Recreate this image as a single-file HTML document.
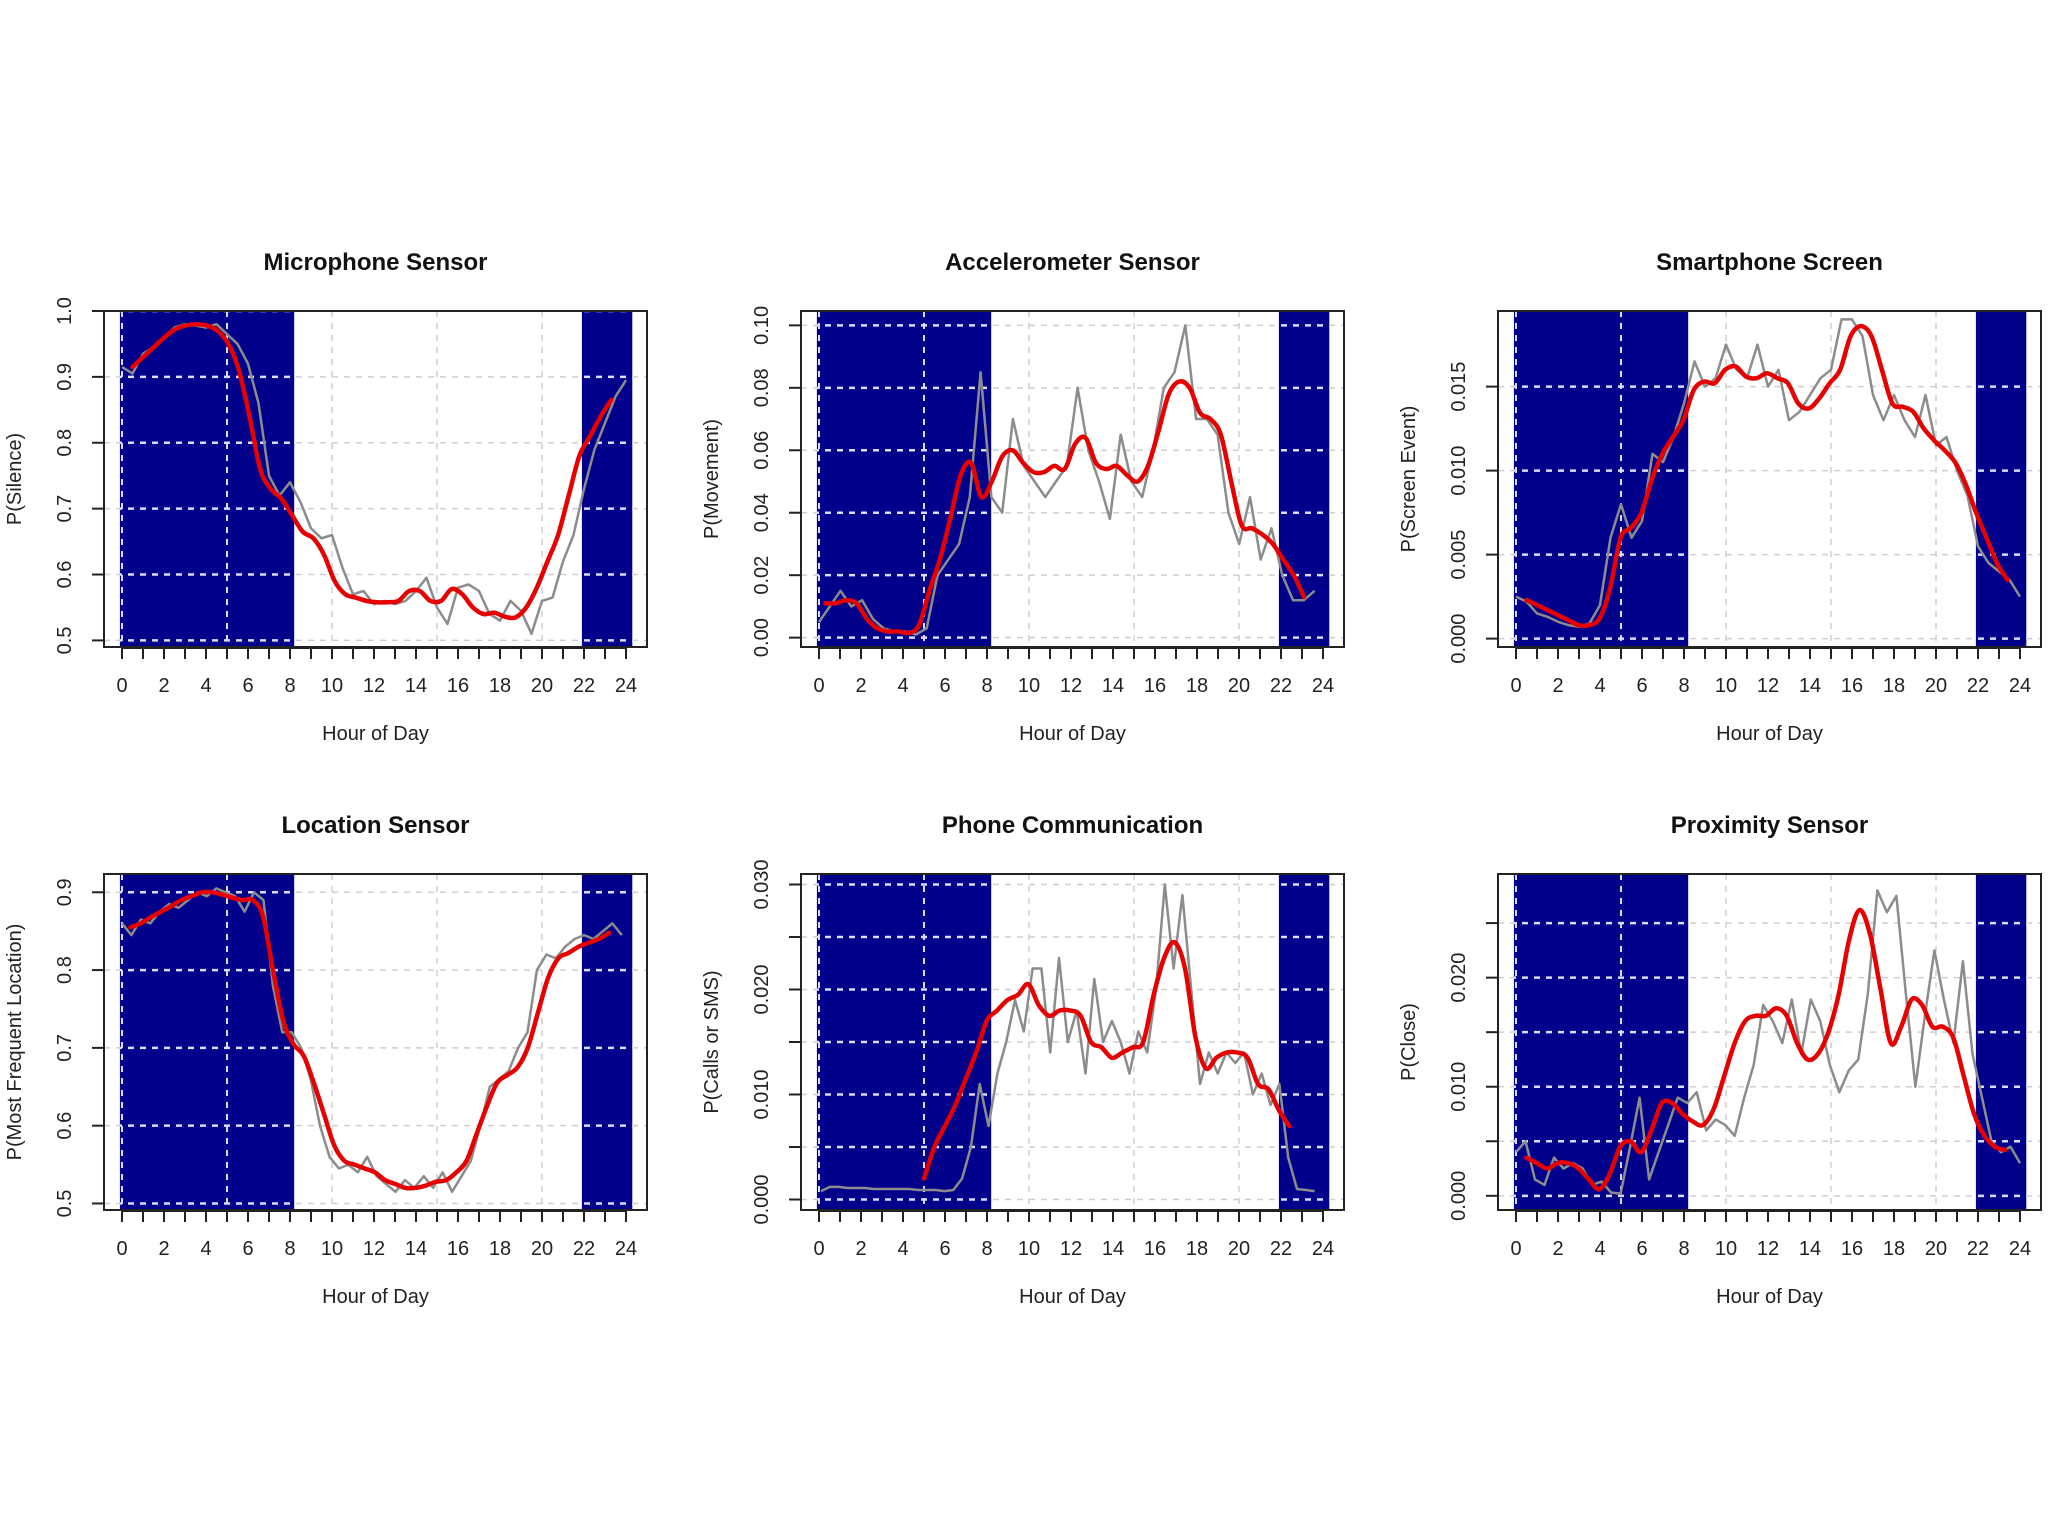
<!DOCTYPE html>
<html><head><meta charset="utf-8"><style>
html,body{margin:0;padding:0;background:#fff;}
svg{display:block;font-family:"Liberation Sans",Arial,sans-serif;}
</style></head><body>
<svg id="fig" width="2048" height="1535" viewBox="0 0 2048 1535" xmlns="http://www.w3.org/2000/svg"></svg>
<script>
// ---------- data ----------
const hourTicks = [0,1,2,3,4,5,6,7,8,9,10,11,12,13,14,15,16,17,18,19,20,21,22,23,24];
const hourLabels = ["0","2","4","6","8","10","12","14","16","18","20","22","24"];
const nightBands = [[-0.1, 8.2], [21.9, 24.3]];

const titles = ["Microphone Sensor","Accelerometer Sensor","Smartphone Screen","Location Sensor","Phone Communication","Proximity Sensor"];
const yTitles = ["P(Silence)","P(Movement)","P(Screen Event)","P(Most Frequent Location)","P(Calls or SMS)","P(Close)"];

const micTicks = [0.5,0.6,0.7,0.8,0.9,1.0];
const micTickLabels = ["0.5","0.6","0.7","0.8","0.9","1.0"];
const micRange = [0.49, 1.0];
const micRaw = [0.915,0.905,0.935,0.945,0.96,0.975,0.98,0.978,0.975,0.98,0.965,0.95,0.92,0.86,0.75,0.72,0.74,0.71,0.67,0.655,0.66,0.61,0.57,0.575,0.555,0.56,0.555,0.56,0.575,0.595,0.55,0.525,0.58,0.585,0.575,0.54,0.53,0.56,0.545,0.51,0.56,0.565,0.62,0.66,0.73,0.79,0.83,0.87,0.895];
const micSmooth = [0.915,0.93,0.945,0.96,0.972,0.978,0.98,0.978,0.97,0.95,0.91,0.84,0.76,0.73,0.715,0.69,0.665,0.655,0.63,0.59,0.57,0.565,0.56,0.558,0.558,0.56,0.575,0.575,0.56,0.56,0.578,0.57,0.55,0.54,0.542,0.536,0.535,0.55,0.58,0.62,0.66,0.72,0.78,0.81,0.84,0.865];
const micSpan = [0.5, 23.3];

const accTicks = [0,0.02,0.04,0.06,0.08,0.10];
const accTickLabels = ["0.00","0.02","0.04","0.06","0.08","0.10"];
const accRange = [-0.003, 0.1046];
const accRaw = [0.005,0.01,0.015,0.01,0.012,0.006,0.003,0.002,0.002,0.001,0.003,0.02,0.025,0.03,0.045,0.085,0.045,0.04,0.07,0.055,0.05,0.045,0.05,0.055,0.08,0.06,0.05,0.038,0.065,0.05,0.045,0.06,0.08,0.085,0.1,0.07,0.07,0.065,0.04,0.03,0.045,0.025,0.035,0.02,0.012,0.012,0.015];
const accSmooth = [0.011,0.011,0.012,0.011,0.006,0.003,0.002,0.002,0.0015,0.004,0.015,0.025,0.038,0.052,0.056,0.045,0.05,0.058,0.06,0.056,0.053,0.053,0.055,0.054,0.062,0.064,0.056,0.054,0.055,0.052,0.05,0.055,0.066,0.078,0.082,0.08,0.072,0.07,0.065,0.05,0.036,0.035,0.033,0.03,0.025,0.02,0.013];
const accSpan = [0.3, 23.1];

const scrTicks = [0,0.005,0.010,0.015];
const scrTickLabels = ["0.000","0.005","0.010","0.015"];
const scrRange = [-0.0005, 0.0195];
const scrRaw = [0.0025,0.0022,0.0015,0.0013,0.001,0.0008,0.0007,0.0009,0.002,0.006,0.008,0.006,0.007,0.011,0.0105,0.012,0.014,0.0165,0.015,0.0155,0.0175,0.016,0.0155,0.0175,0.015,0.016,0.013,0.0135,0.0145,0.0155,0.016,0.019,0.019,0.018,0.0145,0.013,0.0145,0.013,0.012,0.0145,0.0115,0.012,0.01,0.0085,0.0055,0.0045,0.004,0.0035,0.0025];
const scrSmooth = [0.0023,0.002,0.0017,0.0014,0.0011,0.0008,0.0008,0.0012,0.003,0.006,0.0066,0.0075,0.0095,0.011,0.012,0.013,0.0148,0.0153,0.0152,0.016,0.0162,0.0156,0.0155,0.0158,0.0155,0.0152,0.014,0.0137,0.0143,0.0152,0.016,0.018,0.0186,0.018,0.016,0.014,0.0138,0.0135,0.0125,0.0118,0.0112,0.0105,0.0092,0.0075,0.006,0.0045,0.0035];
const scrSpan = [0.5, 23.4];

const locTicks = [0.5,0.6,0.7,0.8,0.9];
const locTickLabels = ["0.5","0.6","0.7","0.8","0.9"];
const locRange = [0.4916, 0.9235];
const locRaw = [0.86,0.845,0.865,0.86,0.875,0.885,0.88,0.89,0.9,0.895,0.905,0.9,0.895,0.875,0.9,0.89,0.78,0.72,0.72,0.7,0.66,0.6,0.56,0.545,0.55,0.54,0.56,0.535,0.525,0.515,0.53,0.52,0.535,0.52,0.54,0.515,0.535,0.555,0.6,0.65,0.66,0.67,0.7,0.72,0.8,0.82,0.815,0.83,0.84,0.845,0.84,0.85,0.86,0.845];
const locSmooth = [0.855,0.86,0.868,0.875,0.882,0.89,0.895,0.9,0.9,0.897,0.893,0.89,0.89,0.87,0.8,0.735,0.705,0.69,0.655,0.615,0.575,0.555,0.55,0.545,0.54,0.53,0.525,0.52,0.52,0.523,0.528,0.53,0.54,0.555,0.59,0.625,0.655,0.665,0.675,0.7,0.745,0.79,0.815,0.822,0.83,0.835,0.84,0.848];
const locSpan = [0.4, 23.2];

const phnTicks = [0,0.005,0.010,0.015,0.020,0.025,0.030];
const phnTickLabels = ["0.000","","0.010","","0.020","","0.030"];
const phnRange = [-0.001, 0.031];
const phnRaw = [0.0008,0.0012,0.0012,0.0011,0.0011,0.0011,0.001,0.001,0.001,0.001,0.001,0.0009,0.0009,0.0009,0.0008,0.0009,0.002,0.005,0.011,0.007,0.012,0.015,0.019,0.016,0.022,0.022,0.014,0.023,0.015,0.018,0.012,0.021,0.015,0.017,0.015,0.012,0.016,0.014,0.02,0.03,0.022,0.029,0.02,0.011,0.014,0.012,0.014,0.013,0.014,0.01,0.012,0.009,0.011,0.004,0.001,0.0009,0.0008];
const phnSmooth = [0.002,0.005,0.007,0.009,0.0115,0.014,0.017,0.018,0.019,0.0195,0.0205,0.0185,0.0175,0.018,0.018,0.0175,0.015,0.0145,0.0135,0.014,0.0145,0.015,0.0195,0.023,0.0245,0.022,0.0155,0.0125,0.0135,0.014,0.014,0.0135,0.011,0.0105,0.0085,0.007];
const phnSpan = [5.0, 22.4];
const phnRawSpan = [0.1, 23.6];

const prxTicks = [0,0.005,0.010,0.015,0.020,0.025];
const prxTickLabels = ["0.000","","0.010","","0.020",""];
const prxRange = [-0.0013, 0.0295];
const prxRaw = [0.004,0.005,0.0015,0.001,0.0035,0.0025,0.003,0.0025,0.001,0.0013,0.0003,0.0002,0.0045,0.009,0.0015,0.004,0.0065,0.009,0.0085,0.0095,0.006,0.007,0.0065,0.0055,0.009,0.012,0.0175,0.016,0.014,0.018,0.013,0.018,0.016,0.012,0.0095,0.0115,0.0125,0.0185,0.028,0.026,0.0275,0.0185,0.01,0.0165,0.0225,0.018,0.014,0.0215,0.013,0.009,0.005,0.004,0.0045,0.003];
const prxSmooth = [0.0035,0.003,0.0025,0.003,0.003,0.0025,0.0015,0.0006,0.002,0.0045,0.005,0.004,0.006,0.0085,0.0085,0.0075,0.0068,0.0065,0.008,0.011,0.014,0.016,0.0165,0.0165,0.0172,0.0165,0.014,0.0125,0.013,0.015,0.0185,0.0235,0.0262,0.024,0.019,0.014,0.0155,0.018,0.0175,0.0155,0.0155,0.0145,0.011,0.0075,0.0055,0.0045,0.0042];
const prxSpan = [0.5, 23.3];

// ---------- drawing ----------
const NS = "http://www.w3.org/2000/svg";
const svg = document.getElementById('fig');
function mk(tag, attrs, parent){ const e=document.createElementNS(NS,tag); for(const k in attrs) e.setAttribute(k, attrs[k]); (parent||svg).appendChild(e); return e; }

const colLeft = [104, 801, 1498];
const rowTop = [311, 874];
const W = 543, H = 336;

const panels = [
 {ticks:micTicks, labels:micTickLabels, range:micRange, raw:micRaw, rawSpan:[0,24], sm:micSmooth, span:micSpan},
 {ticks:accTicks, labels:accTickLabels, range:accRange, raw:accRaw, rawSpan:[0,23.6], sm:accSmooth, span:accSpan},
 {ticks:scrTicks, labels:scrTickLabels, range:scrRange, raw:scrRaw, rawSpan:[0,24], sm:scrSmooth, span:scrSpan},
 {ticks:locTicks, labels:locTickLabels, range:locRange, raw:locRaw, rawSpan:[0,23.8], sm:locSmooth, span:locSpan},
 {ticks:phnTicks, labels:phnTickLabels, range:phnRange, raw:phnRaw, rawSpan:phnRawSpan, sm:phnSmooth, span:phnSpan},
 {ticks:prxTicks, labels:prxTickLabels, range:prxRange, raw:prxRaw, rawSpan:[0,24], sm:prxSmooth, span:prxSpan}
];

function smoothPath(pts){
  let d = "M"+pts[0][0].toFixed(1)+","+pts[0][1].toFixed(1);
  for(let i=0;i<pts.length-1;i++){
    const p0=pts[Math.max(0,i-1)], p1=pts[i], p2=pts[i+1], p3=pts[Math.min(pts.length-1,i+2)];
    const c1x=p1[0]+(p2[0]-p0[0])/6, c1y=p1[1]+(p2[1]-p0[1])/6;
    const c2x=p2[0]-(p3[0]-p1[0])/6, c2y=p2[1]-(p3[1]-p1[1])/6;
    d+=" C"+c1x.toFixed(1)+","+c1y.toFixed(1)+" "+c2x.toFixed(1)+","+c2y.toFixed(1)+" "+p2[0].toFixed(1)+","+p2[1].toFixed(1);
  }
  return d;
}

panels.forEach((p, idx) => {
  const L = colLeft[idx%3], T = rowTop[Math.floor(idx/3)], B = T+H, R = L+W;
  const xs = h => L + 18 + h*21.0;
  const ys = v => B - (v - p.range[0])/(p.range[1]-p.range[0])*H;
  const g = mk('g', {});
  
  
  const clipId = 'clip'+idx;
  const cp = mk('clipPath',{id:clipId}, g);
  mk('rect',{x:L,y:T,width:W,height:H},cp);
  const plot = mk('g',{'clip-path':'url(#'+clipId+')'}, g);
  nightBands.forEach((b,bi)=>{
    const r = mk('rect',{x:xs(b[0]),y:T,width:xs(b[1])-xs(b[0]),height:H,fill:'#00008b'},plot);
    
    
  });
  [0,5,10,15,20].forEach(h=>{
    mk('line',{x1:xs(h),x2:xs(h),y1:T,y2:B,stroke:'#cfcfcf','stroke-width':1.5,'stroke-dasharray':'6,6'},plot);
  });
  p.ticks.forEach(v=>{
    mk('line',{x1:L,x2:R,y1:ys(v),y2:ys(v),stroke:'#cfcfcf','stroke-width':1.5,'stroke-dasharray':'6,6'},plot);
  });
  nightBands.forEach((b,bi)=>{
    const cid='bc'+idx+'_'+bi;
    const c=mk('clipPath',{id:cid},g);
    mk('rect',{x:xs(b[0]),y:T,width:xs(b[1])-xs(b[0]),height:H},c);
    const gg=mk('g',{'clip-path':'url(#'+cid+')'},plot);
    [0,5,10,15,20].forEach(h=>mk('line',{x1:xs(h),x2:xs(h),y1:T,y2:B,stroke:'#dcdcff','stroke-width':2,'stroke-dasharray':'6,6'},gg));
    p.ticks.forEach(v=>mk('line',{x1:L,x2:R,y1:ys(v),y2:ys(v),stroke:'#dcdcff','stroke-width':2.5,'stroke-dasharray':'6,6'},gg));
  });
  const rawPts = p.raw.map((v,i)=>[xs(p.rawSpan[0]+i*(p.rawSpan[1]-p.rawSpan[0])/(p.raw.length-1)), ys(v)]);
  const rl = mk('polyline',{points:rawPts.map(q=>q[0].toFixed(1)+','+q[1].toFixed(1)).join(' '),fill:'none',stroke:'#8c8c8c','stroke-width':2.5,'stroke-linejoin':'round'},plot);
  
  
  const smPts = p.sm.map((v,i)=>[xs(p.span[0]+i*(p.span[1]-p.span[0])/(p.sm.length-1)), ys(v)]);
  const sl = mk('path',{d:smoothPath(smPts),fill:'none',stroke:'#e60000','stroke-width':4.5,'stroke-linejoin':'round','stroke-linecap':'round'},plot);
  
  
  const bx = mk('rect',{x:L,y:T,width:W,height:H,fill:'none',stroke:'#222','stroke-width':2},g);
  
  
  const xa = mk('g',{},g);
  
  
  mk('line',{x1:xs(0),x2:xs(24),y1:B+1,y2:B+1,stroke:'#222','stroke-width':2},xa);
  hourTicks.forEach(h=>mk('line',{x1:xs(h),x2:xs(h),y1:B,y2:B+12,stroke:'#222','stroke-width':2},xa));
  hourLabels.forEach(s=>{
    const t=mk('text',{x:xs(+s),y:B+45,'text-anchor':'middle','font-size':20,fill:'#222'},xa);
    t.textContent=s;
  });
  const xt=mk('text',{x:(L+R)/2,y:B+93,'text-anchor':'middle','font-size':20,fill:'#222'},g);
  xt.textContent='Hour of Day';
  
  
  const ya = mk('g',{},g);
  
  
  p.ticks.forEach((v,i)=>{
    mk('line',{x1:L-12,x2:L,y1:ys(v),y2:ys(v),stroke:'#222','stroke-width':2},ya);
    if(p.labels[i]){
      const t=mk('text',{x:0,y:0,'text-anchor':'middle','font-size':20,fill:'#222',transform:'translate('+(L-33)+','+ys(v)+') rotate(-90)'},ya);
      t.textContent=p.labels[i];
    }
  });
  const yt=mk('text',{x:0,y:0,'text-anchor':'middle','font-size':20,fill:'#222',transform:'translate('+(L-83)+','+(T+H/2)+') rotate(-90)'},g);
  yt.textContent=yTitles[idx];
  
  
  const tt=mk('text',{x:(L+R)/2,y:T-41,'text-anchor':'middle','font-size':24,'font-weight':'bold',fill:'#111'},g);
  tt.textContent=titles[idx];
  
  
});
</script>
</body></html>
